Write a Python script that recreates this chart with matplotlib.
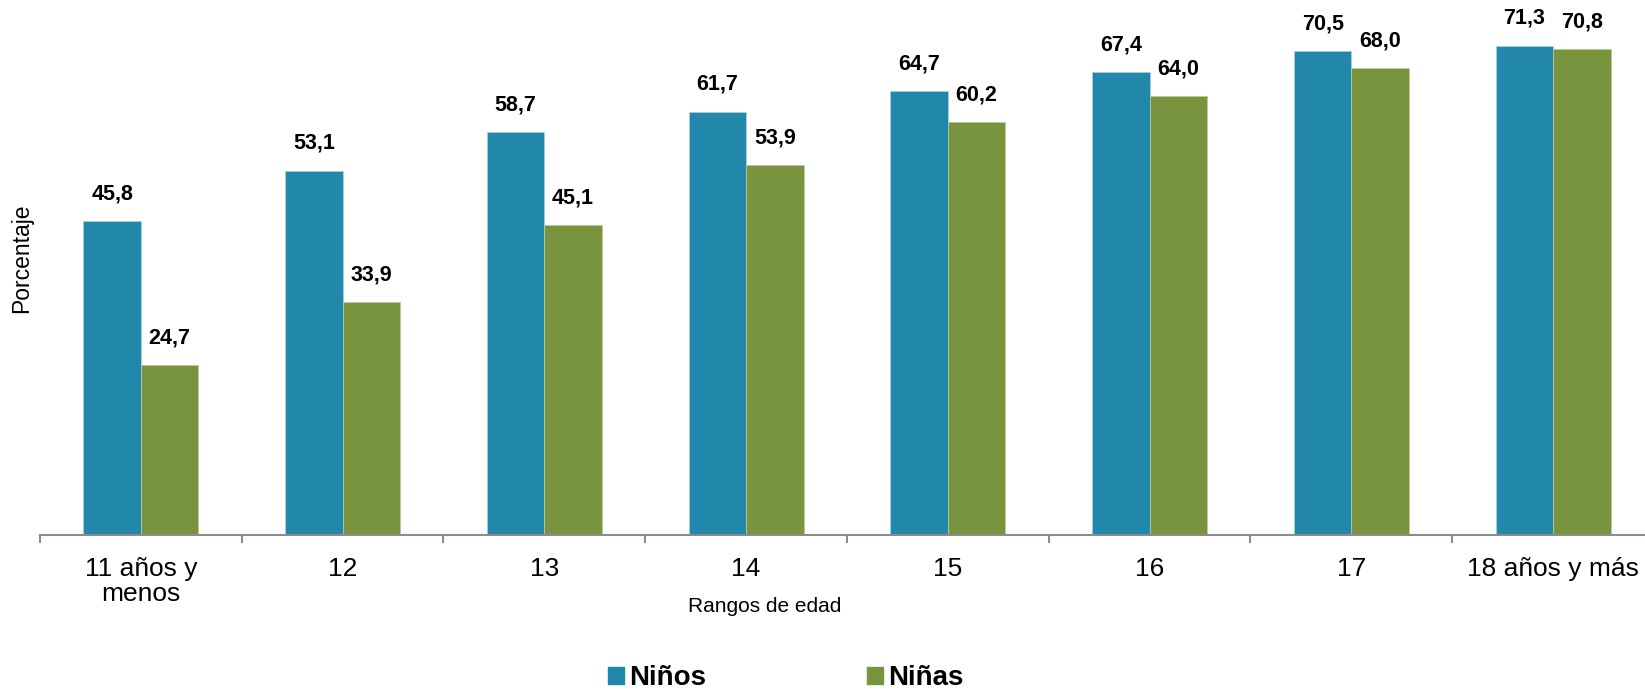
import matplotlib.pyplot as plt
import matplotlib.patches as mpatches
import numpy as np

plt.rcParams['font.family'] = ['Liberation Sans', 'DejaVu Sans']

categorias = ['11 años y\nmenos', '12', '13', '14', '15', '16', '17', '18 años y más']
ninos = [45.8, 53.1, 58.7, 61.7, 64.7, 67.4, 70.5, 71.3]
ninas = [24.7, 33.9, 45.1, 53.9, 60.2, 64.0, 68.0, 70.8]

c_ninos = '#2188AB'
c_ninas = '#78943E'

W, H = 1645, 689
fig = plt.figure(figsize=(W / 100, H / 100), dpi=100)
# axes in pixel coords: x 40..1654, y 535 (base) .. 13
ax = fig.add_axes([40 / W, 1 - 535 / H, 1614 / W, (535 - 13.4) / H])

x = np.arange(len(categorias))
bw = 0.285
b1 = ax.bar(x - bw / 2, ninos, bw, color=c_ninos, edgecolor='#a9cfdc', linewidth=0.6)
b2 = ax.bar(x + bw / 2, ninas, bw, color=c_ninas, edgecolor='#b9c99a', linewidth=0.6)

for bars, vals in [(b1, ninos), (b2, ninas)]:
    for b, v in zip(bars, vals):
        ax.annotate(f"{v:.1f}".replace('.', ','), (b.get_x() + b.get_width() / 2, v),
                    xytext=(0, 12), textcoords='offset points', ha='center', va='bottom',
                    fontsize=15.5, fontweight='bold')

ax.set_xlim(-0.5, len(categorias) - 0.5)
ax.set_ylim(0, 76)
ax.set_yticks([])
for s in ['top', 'right', 'left']:
    ax.spines[s].set_visible(False)
ax.spines['bottom'].set_color('#8c8c8c')
ax.spines['bottom'].set_linewidth(1.5)

ax.set_xticks(x)
ax.set_xticklabels(categorias, fontsize=19, linespacing=1.05)
ax.set_xticks(np.arange(len(categorias) + 1) - 0.5, minor=True)
ax.tick_params(axis='x', which='major', length=0, pad=16)
ax.tick_params(axis='x', which='minor', length=6, width=1.5, color='#8c8c8c')

fig.text(765 / W, 1 - 607 / H, 'Rangos de edad', fontsize=15, ha='center', va='center')
fig.text(22 / W, 1 - 258 / H, 'Porcentaje', fontsize=16.5, rotation=90, ha='center', va='center')

handles = [mpatches.Patch(color=c_ninos, label='Niños'),
           mpatches.Patch(color=c_ninas, label='Niñas')]
fig.legend(handles=handles, loc='center', bbox_to_anchor=(786 / W, 1 - 678 / H), ncol=2,
           frameon=False, prop={'size': 20, 'weight': 'bold'}, handlelength=0.55,
           handleheight=0.55, handletextpad=0.2, columnspacing=5.8)

fig.savefig('out.png', dpi=100)
